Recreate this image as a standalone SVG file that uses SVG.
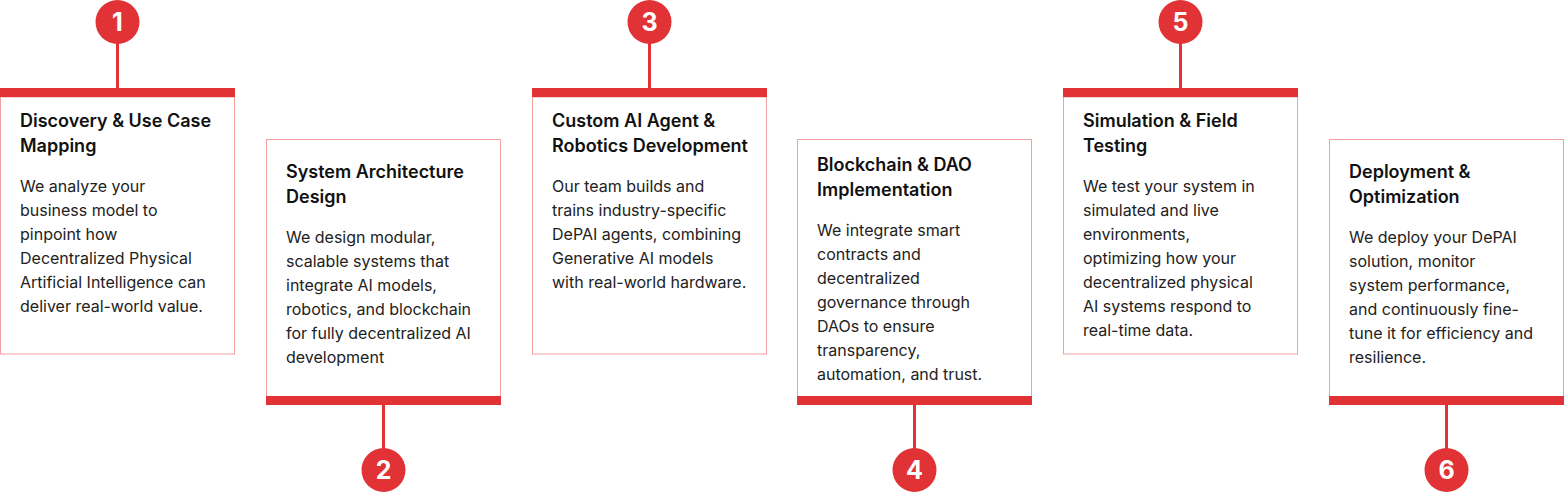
<svg xmlns="http://www.w3.org/2000/svg" width="1564" height="496" viewBox="0 0 1564 496">
<style>
.box{fill:#ffffff;stroke:#f0a0a0;stroke-width:1}
.bar{fill:#e13335}
.conn{stroke:#e13335;stroke-width:3;fill:none}
.dot{fill:#e13335}
.num{font-family:Inter,"Liberation Sans",sans-serif;font-weight:700;font-size:25px;fill:#ffffff;text-anchor:middle}
.title{font-family:Inter,"Liberation Sans",sans-serif;font-weight:600;font-size:18px;fill:#111111}
.body{font-family:Inter,"Liberation Sans",sans-serif;font-weight:400;font-size:16px;fill:#222222}
</style>
<rect width="1564" height="496" fill="#ffffff"/>
<g id="connectors">
<line class="conn" x1="117.5" y1="40" x2="117.5" y2="88"/>
<line class="conn" x1="383.5" y1="405" x2="383.5" y2="452"/>
<line class="conn" x1="649.5" y1="40" x2="649.5" y2="88"/>
<line class="conn" x1="914.5" y1="405" x2="914.5" y2="452"/>
<line class="conn" x1="1180.5" y1="40" x2="1180.5" y2="88"/>
<line class="conn" x1="1446.5" y1="405" x2="1446.5" y2="452"/>
</g>
<g id="step1">
<circle class="dot" cx="117.5" cy="22" r="22"/>
<text class="num" x="117.5" y="31">1</text>
<rect class="box" x="0.5" y="97" width="234" height="257"/>
<rect class="bar" x="0" y="88" width="235" height="9"/>
<text class="title" x="20" y="127">Discovery &amp; Use Case</text>
<text class="title" x="20" y="152">Mapping</text>
<text class="body" x="20" y="192">We analyze your</text>
<text class="body" x="20" y="216">business model to</text>
<text class="body" x="20" y="240">pinpoint how</text>
<text class="body" x="20" y="264">Decentralized Physical</text>
<text class="body" x="20" y="288">Artificial Intelligence can</text>
<text class="body" x="20" y="312">deliver real-world value.</text>
</g>
<g id="step2">
<circle class="dot" cx="383.5" cy="470" r="22"/>
<text class="num" x="383.5" y="479">2</text>
<rect class="box" x="266.5" y="139.5" width="234" height="257"/>
<rect class="bar" x="266" y="396" width="235" height="9"/>
<text class="title" x="286" y="178">System Architecture</text>
<text class="title" x="286" y="203">Design</text>
<text class="body" x="286" y="243">We design modular,</text>
<text class="body" x="286" y="267">scalable systems that</text>
<text class="body" x="286" y="291">integrate AI models,</text>
<text class="body" x="286" y="315">robotics, and blockchain</text>
<text class="body" x="286" y="339">for fully decentralized AI</text>
<text class="body" x="286" y="363">development</text>
</g>
<g id="step3">
<circle class="dot" cx="649.5" cy="22" r="22"/>
<text class="num" x="649.5" y="31">3</text>
<rect class="box" x="532.5" y="97" width="234" height="257"/>
<rect class="bar" x="532" y="88" width="235" height="9"/>
<text class="title" x="552" y="127">Custom AI Agent &amp;</text>
<text class="title" x="552" y="152">Robotics Development</text>
<text class="body" x="552" y="192">Our team builds and</text>
<text class="body" x="552" y="216">trains industry-specific</text>
<text class="body" x="552" y="240">DePAI agents, combining</text>
<text class="body" x="552" y="264">Generative AI models</text>
<text class="body" x="552" y="288">with real-world hardware.</text>
</g>
<g id="step4">
<circle class="dot" cx="914.5" cy="470" r="22"/>
<text class="num" x="914.5" y="479">4</text>
<rect class="box" x="797.5" y="139.5" width="234" height="257"/>
<rect class="bar" x="797" y="396" width="235" height="9"/>
<text class="title" x="817" y="171">Blockchain &amp; DAO</text>
<text class="title" x="817" y="196">Implementation</text>
<text class="body" x="817" y="236">We integrate smart</text>
<text class="body" x="817" y="260">contracts and</text>
<text class="body" x="817" y="284">decentralized</text>
<text class="body" x="817" y="308">governance through</text>
<text class="body" x="817" y="332">DAOs to ensure</text>
<text class="body" x="817" y="356">transparency,</text>
<text class="body" x="817" y="380">automation, and trust.</text>
</g>
<g id="step5">
<circle class="dot" cx="1180.5" cy="22" r="22"/>
<text class="num" x="1180.5" y="31">5</text>
<rect class="box" x="1063.5" y="97" width="234" height="257"/>
<rect class="bar" x="1063" y="88" width="235" height="9"/>
<text class="title" x="1083" y="127">Simulation &amp; Field</text>
<text class="title" x="1083" y="152">Testing</text>
<text class="body" x="1083" y="192">We test your system in</text>
<text class="body" x="1083" y="216">simulated and live</text>
<text class="body" x="1083" y="240">environments,</text>
<text class="body" x="1083" y="264">optimizing how your</text>
<text class="body" x="1083" y="288">decentralized physical</text>
<text class="body" x="1083" y="312">AI systems respond to</text>
<text class="body" x="1083" y="336">real-time data.</text>
</g>
<g id="step6">
<circle class="dot" cx="1446.5" cy="470" r="22"/>
<text class="num" x="1446.5" y="479">6</text>
<rect class="box" x="1329.5" y="139.5" width="234" height="257"/>
<rect class="bar" x="1329" y="396" width="235" height="9"/>
<text class="title" x="1349" y="178">Deployment &amp;</text>
<text class="title" x="1349" y="203">Optimization</text>
<text class="body" x="1349" y="243">We deploy your DePAI</text>
<text class="body" x="1349" y="267">solution, monitor</text>
<text class="body" x="1349" y="291">system performance,</text>
<text class="body" x="1349" y="315">and continuously fine-</text>
<text class="body" x="1349" y="339">tune it for efficiency and</text>
<text class="body" x="1349" y="363">resilience.</text>
</g>
</svg>
